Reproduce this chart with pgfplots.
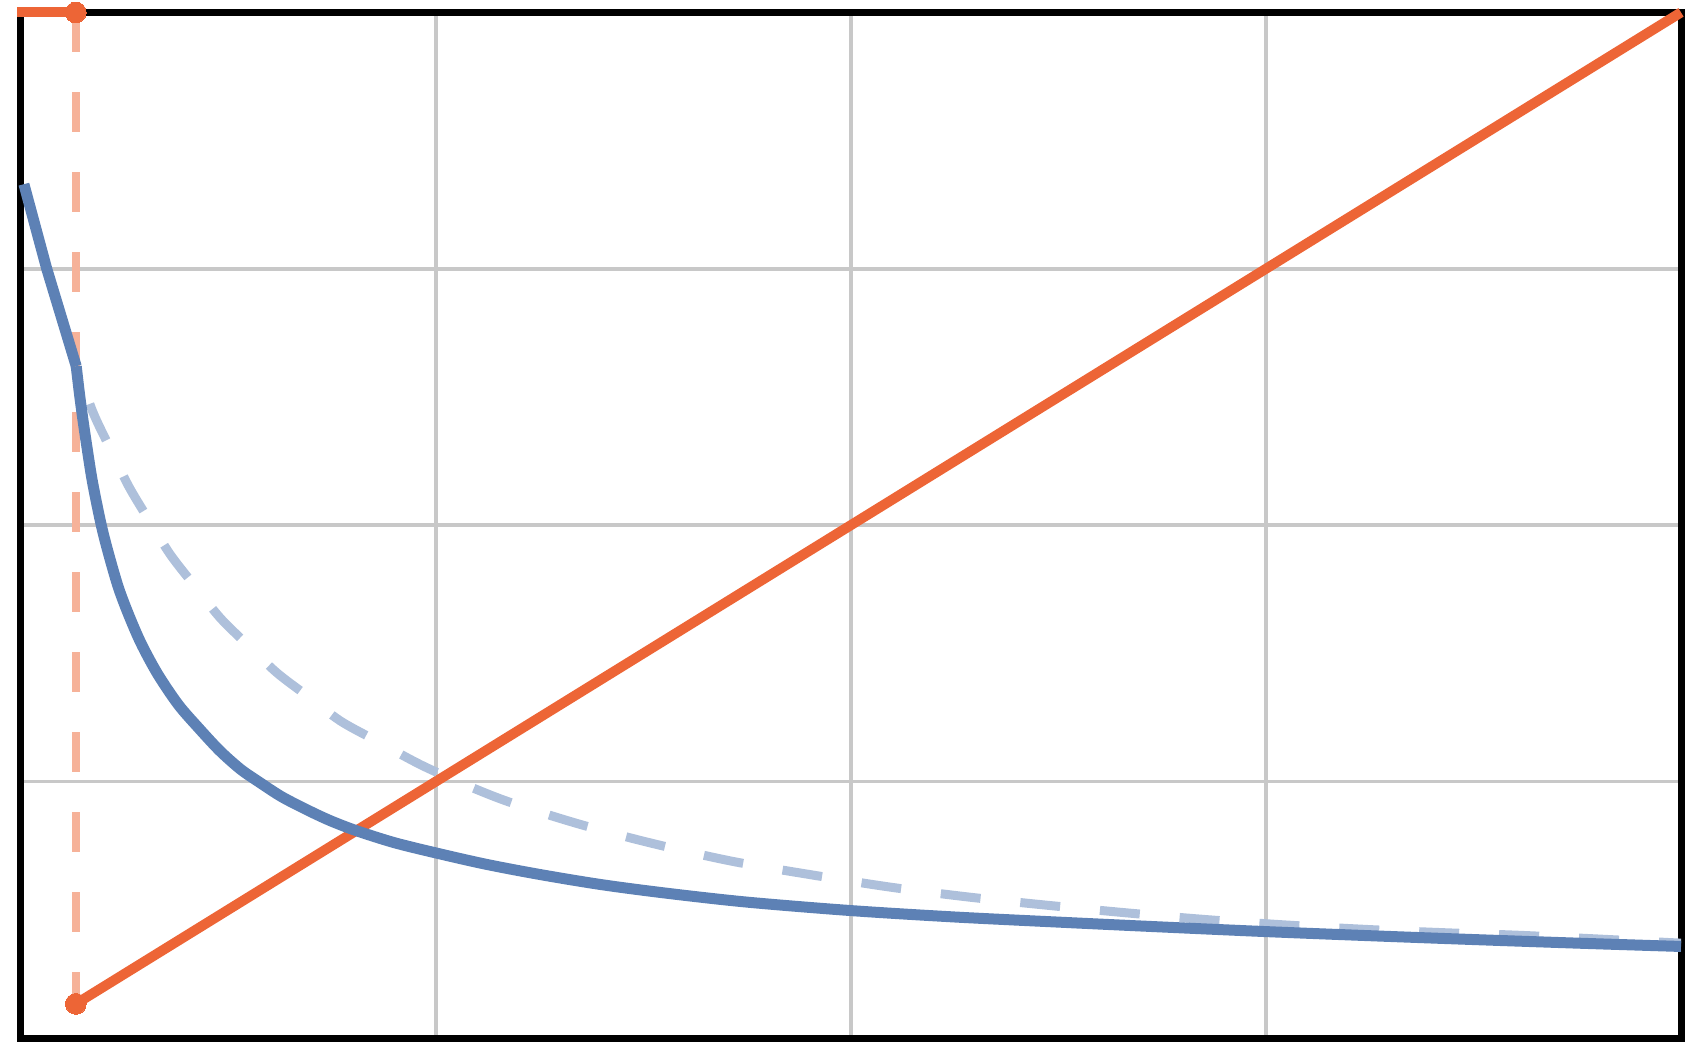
\documentclass[border=0pt]{standalone}
\usepackage{pgfplots}
\pgfplotsset{compat=1.18}

\definecolor{orangeL}{RGB}{237,101,54}
\definecolor{orangeP}{RGB}{246,178,153}
\definecolor{blueD}{RGB}{93,129,181}
\definecolor{blueP}{RGB}{174,192,219}
\definecolor{gridG}{RGB}{200,200,200}

\begin{document}
\begin{tikzpicture}
\useasboundingbox (-5.15pt,-3pt) rectangle (419.85pt,259.5pt);
\begin{axis}[
    at={(0,0)}, anchor=south west,
    width=415.1pt, height=256.4pt,
    scale only axis,
    xmin=0, xmax=4, ymin=0, ymax=4,
    xtick={1,2,3}, ytick={1,2,3},
    xticklabels={,,}, yticklabels={,,},
    major tick length=0pt,
    grid=major,
    major grid style={gridG, line width=0.9pt},
    axis line style={black, line width=1.75pt},
    clip=false,
]
% vertical asymptote
\addplot[orangeP, line width=2.1pt, dash pattern=on 10pt off 10pt]
    coordinates {(0.133,4) (0.133,0.133)};
% orange pieces
\addplot[orangeL, line width=2.5pt, mark=*, mark indices={2}, mark size=2.6pt,
    mark options={line width=0pt}]
    coordinates {(-0.008,4) (0.133,4)};
\addplot[orangeL, line width=2.5pt, mark=*, mark indices={1}, mark size=2.6pt,
    mark options={line width=0pt}]
    coordinates {(0.133,0.133) (4,4)};
% light dashed blue
\addplot[blueP, line width=2.25pt, smooth, dash pattern=on 10pt off 10pt, dash phase=10pt]
    coordinates {
    (0.134,2.62) (0.175,2.438) (0.215,2.302) (0.26,2.153) (0.308,2.023)
    (0.36,1.887) (0.416,1.77) (0.48,1.64) (0.545,1.536) (0.617,1.425)
    (0.69,1.335) (0.77,1.237) (0.854,1.162) (0.98,1.053) (1.157,0.932)
    (1.344,0.835) (1.527,0.757) (1.715,0.689) (1.903,0.637) (2.097,0.588)
    (2.288,0.549) (2.478,0.517) (2.672,0.487) (2.863,0.461) (3.056,0.440)
    (3.248,0.423) (3.44,0.410) (3.634,0.399) (4.0,0.37)};
% solid blue
\addplot[blueD, line width=2.75pt, line join=round]
    coordinates {(0.008,3.33) (0.063,3.0) (0.134,2.62)};
\addplot[blueD, line width=2.75pt, smooth, line join=round]
    coordinates {
    (0.134,2.62) (0.142,2.51) (0.15,2.413) (0.16,2.303) (0.173,2.17)
    (0.193,2.01) (0.21,1.90) (0.235,1.76) (0.26,1.652) (0.29,1.54)
    (0.33,1.42) (0.38,1.30) (0.43,1.207) (0.48,1.12) (0.53,1.048)
    (0.573,1.0) (0.63,0.94) (0.7,0.882) (0.75,0.845) (0.81,0.808)
    (0.9,0.762) (1.0,0.722) (1.12,0.678) (1.25,0.638) (1.4,0.598)
    (1.56,0.564) (1.75,0.53) (2.0,0.497) (2.25,0.472) (2.5,0.452)
    (2.75,0.433) (3.0,0.415) (3.25,0.399) (3.5,0.384) (3.75,0.37)
    (4.0,0.357)};
\end{axis}
\end{tikzpicture}
\end{document}
